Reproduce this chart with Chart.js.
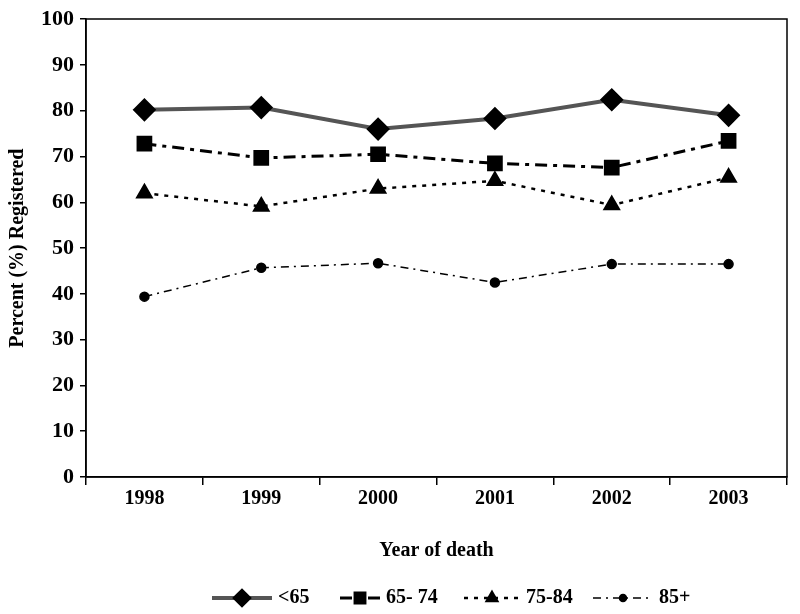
<!DOCTYPE html>
<html>
<head>
<meta charset="utf-8">
<script src="https://cdn.jsdelivr.net/npm/chart.js@4/dist/chart.umd.min.js"></script>
<style>
  html, body { margin: 0; padding: 0; background: #fff; }
  #wrap { width: 800px; height: 614px; }
</style>
</head>
<body>
<div id="wrap"><canvas id="chart" width="800" height="614"></canvas></div>
<script>
// データ
const years = ['1998', '1999', '2000', '2001', '2002', '2003'];
const under65 = [80.2, 80.7, 76.0, 78.3, 82.4, 79.0];
const age65to74 = [72.8, 69.7, 70.5, 68.5, 67.6, 73.4];
const age75to84 = [62.0, 59.1, 63.0, 64.7, 59.4, 65.4];
const age85plus = [39.4, 45.7, 46.7, 42.5, 46.5, 46.5];
const seriesNames = ['<65', '65- 74', '75-84', '85+'];

const serif = "'Liberation Serif', 'DejaVu Serif', serif";

// プロット枠を描く
const boxPlugin = {
    id: 'box',
    afterDraw(chart) {
        const a = chart.chartArea;
        const c = chart.ctx;
        c.save();
        c.strokeStyle = '#000';
        c.lineWidth = 1.5;
        c.strokeRect(Math.round(a.left), Math.round(a.top),
            Math.round(a.right - a.left), Math.round(a.bottom - a.top));
        c.restore();
    }
};

// 線種つきの凡例
const lineLegend = {
    id: 'lineLegend',
    afterDraw(chart) {
        const c = chart.ctx;
        const y = 598;
        const items = [
            { x: 212, len: 60, r: 7, ds: 0 },
            { x: 340, len: 40, r: 7, ds: 1 },
            { x: 464, len: 56, r: 6, ds: 2 },
            { x: 593, len: 60, r: 3.5, ds: 3 }
        ];
        c.save();
        items.forEach(it => {
            const ds = chart.data.datasets[it.ds];
            c.strokeStyle = ds.borderColor;
            c.lineWidth = ds.borderWidth;
            c.setLineDash(ds.borderDash || []);
            c.beginPath();
            c.moveTo(it.x, y);
            c.lineTo(it.x + it.len, y);
            c.stroke();
            c.setLineDash([]);
            c.fillStyle = '#000';
            c.strokeStyle = '#000';
            Chart.helpers.drawPoint(c, {
                pointStyle: ds.pointStyle,
                radius: it.r,
                rotation: 0,
                borderWidth: 1
            }, it.x + it.len / 2, y);
            c.font = 'bold 20px ' + serif;
            c.textBaseline = 'middle';
            c.textAlign = 'left';
            c.fillText(seriesNames[it.ds], it.x + it.len + 6, y);
        });
        c.restore();
    }
};

function makeSet(label, data, style, radius, width, dash, color) {
    return {
        label: label,
        data: data,
        borderColor: color,
        backgroundColor: '#000',
        pointBackgroundColor: '#000',
        pointBorderColor: '#000',
        borderWidth: width,
        borderDash: dash,
        pointStyle: style,
        pointRadius: radius,
        pointHoverRadius: radius,
        tension: 0,
        fill: false
    };
}

const ctx = document.getElementById('chart').getContext('2d');
new Chart(ctx, {
    type: 'line',
    data: {
        labels: years,
        datasets: [
            makeSet(seriesNames[0], under65, 'rectRot', 9, 4, [], '#555'),
            makeSet(seriesNames[1], age65to74, 'rect', 9, 3, [12, 6, 4, 6], '#000'),
            makeSet(seriesNames[2], age75to84, 'triangle', 8, 2.5, [4, 6], '#000'),
            makeSet(seriesNames[3], age85plus, 'circle', 4.5, 1.5, [8, 5, 2, 5], '#000')
        ]
    },
    options: {
        responsive: false,
        animation: false,
        layout: { padding: { top: 3, right: 11, bottom: 51, left: 6 } },
        plugins: {
            legend: { display: false },
            tooltip: { enabled: false }
        },
        scales: {
            x: {
                offset: true,
                grid: { drawOnChartArea: false, offset: true, tickLength: 8, color: '#000', lineWidth: 1.5 },
                border: { color: '#000', width: 1.5 },
                ticks: { color: '#000', font: { family: serif, size: 20, weight: 'bold' }, padding: 2 },
                title: {
                    display: true, text: 'Year of death', color: '#000',
                    font: { family: serif, size: 20, weight: 'bold' }, padding: { top: 26, bottom: 0 }
                }
            },
            y: {
                min: 0,
                max: 100,
                ticks: { stepSize: 10, color: '#000', font: { family: serif, size: 22, weight: 'bold' }, padding: 6 },
                grid: { drawOnChartArea: false, tickLength: 6, color: '#000', lineWidth: 1.5 },
                border: { color: '#000', width: 1.5 },
                title: {
                    display: true, text: 'Percent (%) Registered', color: '#000',
                    font: { family: serif, size: 20, weight: 'bold' }, padding: { top: 0, bottom: 5 }
                }
            }
        }
    },
    plugins: [boxPlugin, lineLegend]
});
</script>
</body>
</html>
